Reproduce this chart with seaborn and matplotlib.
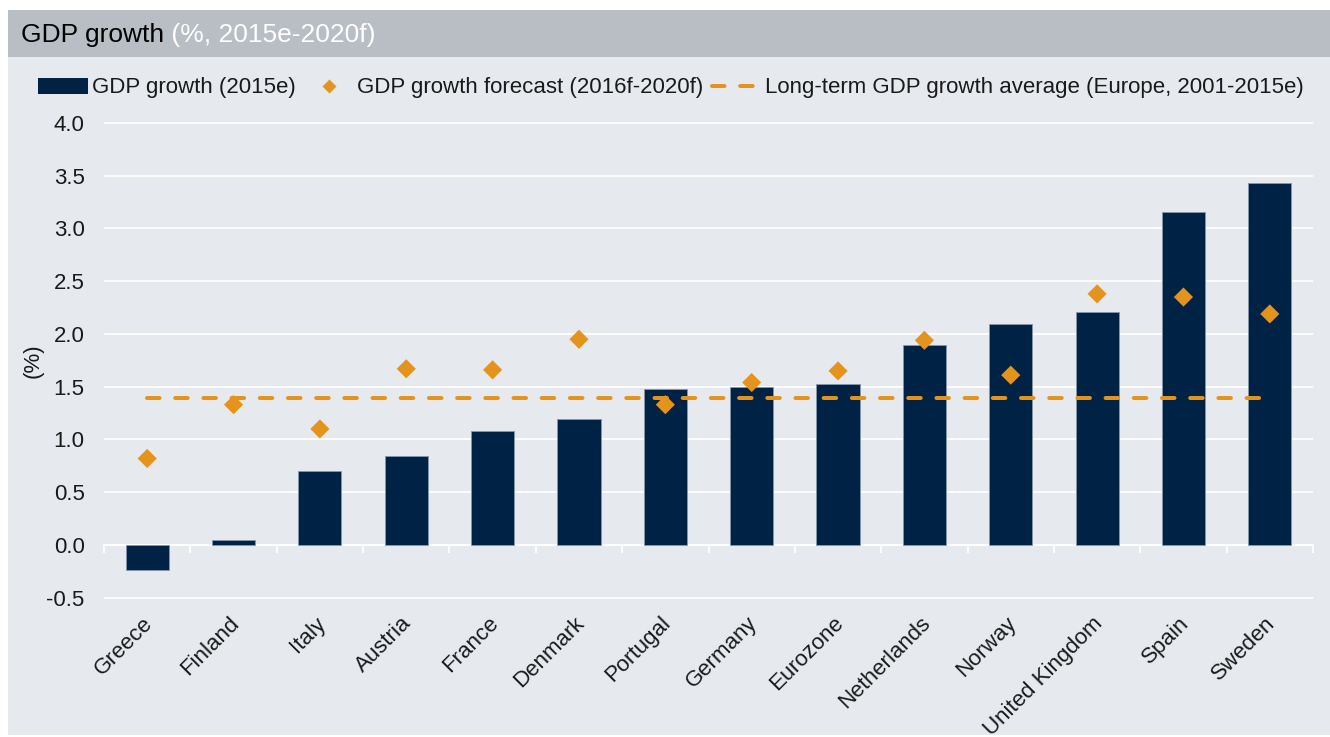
import matplotlib
matplotlib.use('Agg')
import matplotlib.pyplot as plt
import matplotlib.transforms as mtrans
import seaborn as sns
import pandas as pd
import numpy as np
from matplotlib.patches import Rectangle, Patch
from matplotlib.lines import Line2D

countries = ['Greece', 'Finland', 'Italy', 'Austria', 'France', 'Denmark', 'Portugal',
             'Germany', 'Eurozone', 'Netherlands', 'Norway', 'United Kingdom', 'Spain', 'Sweden']
gdp_2015e = [-0.24, 0.05, 0.70, 0.84, 1.08, 1.19, 1.48, 1.50, 1.53, 1.90, 2.09, 2.21, 3.16, 3.43]
forecast_2016_2020 = [0.82, 1.33, 1.10, 1.67, 1.66, 1.95, 1.33, 1.54, 1.65, 1.94, 1.61, 2.38, 2.35, 2.19]
long_term_avg = 1.39
yticks = [-0.5, 0.0, 0.5, 1.0, 1.5, 2.0, 2.5, 3.0, 3.5, 4.0]

NAVY = '#002244'
ORANGE = '#E4941C'
PANEL = '#E6E9EE'
BAND = '#B8BEC4'

sns.set_theme(style='white')
plt.rcParams['font.family'] = ['Liberation Sans', 'DejaVu Sans']

W, H = 1330, 737
fig = plt.figure(figsize=(13.3, 7.37), dpi=100)
fig.patch.set_facecolor('white')
fig.patches.append(Rectangle((8 / W, 1 - 735 / H), 1 - 8 / W, (735 - 57) / H,
                             transform=fig.transFigure, facecolor=PANEL, edgecolor='none', zorder=-5))
fig.patches.append(Rectangle((8 / W, 1 - 57 / H), 1 - 8 / W, (57 - 10) / H,
                             transform=fig.transFigure, facecolor=BAND, edgecolor='none', zorder=-5))

ax = fig.add_axes([104 / W, 0.1818, (1313 - 104) / W, 0.8403 - 0.1818])
ax.set_facecolor(PANEL)

df = pd.DataFrame({'country': countries, 'gdp': gdp_2015e, 'forecast': forecast_2016_2020})

sns.barplot(data=df, x='country', y='gdp', color=NAVY, saturation=1, width=0.5,
            edgecolor='#8597AD', linewidth=0.6, ax=ax, zorder=2)
ax.plot([0, len(countries) - 1], [long_term_avg, long_term_avg], color=ORANGE, lw=2.9,
        ls=(0, (3.1, 3.9)), dash_capstyle='round', zorder=3)
sns.scatterplot(data=df, x='country', y='forecast', marker='D', s=95, color=ORANGE,
                edgecolor='none', ax=ax, zorder=4)

ax.set_ylim(-0.55, 4.05)
ax.set_xlim(-0.5, len(countries) - 0.5)
ax.set_yticks(yticks)
ax.set_yticklabels([f'{v:.1f}' for v in yticks])
ax.yaxis.grid(True, color='white', lw=1.3)
ax.xaxis.grid(False)
ax.set_axisbelow(True)
for s in ax.spines.values():
    s.set_visible(False)
ax.tick_params(axis='y', length=0, pad=14, labelsize=16, labelcolor='#1a1a1a')
ax.tick_params(axis='x', length=0, pad=7, labelsize=16, labelcolor='#1a1a1a')
shift = mtrans.ScaledTranslation(-5 / 100, 0, fig.dpi_scale_trans)
for lbl in ax.get_xticklabels():
    lbl.set_rotation(45)
    lbl.set_ha('right')
    lbl.set_va('top')
    lbl.set_rotation_mode('anchor')
    lbl.set_transform(lbl.get_transform() + shift)
ax.set_xlabel('')
ax.set_ylabel('(%)', fontsize=16, color='#1a1a1a')
ax.yaxis.set_label_coords((44 - 104) / (1313 - 104), 0.5)

sec = ax.secondary_xaxis(0, transform=ax.transData)
sec.set_xticks(np.arange(-0.5, len(countries), 1.0))
sec.set_xticklabels([])
sec.tick_params(axis='x', length=6, width=1.3, color='white', direction='out')
for name, s in sec.spines.items():
    s.set_visible(name == 'bottom')
sec.spines['bottom'].set_color('white')
sec.spines['bottom'].set_linewidth(1.3)

t1 = fig.text(21 / W, 1 - 35 / H, 'GDP growth', fontsize=19, color='black', va='center', ha='left')
fig.add_artist(matplotlib.text.Annotation(' (%, 2015e-2020f)', xy=(1, 0), xycoords=t1,
                                          va='bottom', ha='left', fontsize=19, color='white'))

handles = [Patch(facecolor=NAVY, edgecolor='none'),
           Line2D([], [], marker='D', ls='none', color=ORANGE, markersize=7, markeredgecolor='none'),
           Line2D([], [], color=ORANGE, lw=2.9, ls=(0, (3.1, 3.9)), dash_capstyle='round')]
labels = ['GDP growth (2015e)', 'GDP growth forecast (2016f-2020f)',
          'Long-term GDP growth average (Europe, 2001-2015e)']
fig.legend(handles, labels, loc='center left', bbox_to_anchor=(38 / W, 1 - 88 / H), ncol=3,
           frameon=False, fontsize=16, handlelength=2.27, handletextpad=0.15, columnspacing=0.36,
           borderaxespad=0, borderpad=0, labelcolor='#1a1a1a')

fig.savefig('out.png', dpi=100)
